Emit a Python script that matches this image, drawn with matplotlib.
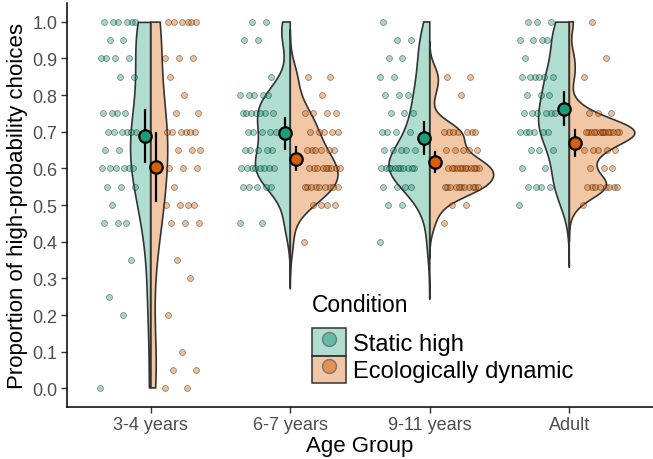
import numpy as np
import matplotlib
matplotlib.use("Agg")
import matplotlib.pyplot as plt
from matplotlib.patches import Patch
from matplotlib.lines import Line2D
from matplotlib.colors import to_rgba

plt.rcParams['font.family'] = ['Liberation Sans', 'DejaVu Sans']

# proportion of high-probability choices comes in steps of 0.05 (20 trials)
levels = np.round(np.arange(0, 1.0001, 0.05), 2)

age_groups = ["3-4 years", "6-7 years", "9-11 years", "Adult"]
conditions = ["Static high", "Ecologically dynamic"]
colors = ["#1B9E77", "#D95F02"]

# participants at each level, from 0.00 up to 1.00
static_34  = [1, 0, 0, 0, 1, 1, 0, 1, 0, 3, 1, 3, 6, 2, 6, 4, 0, 2, 4, 2, 6]
dynamic_34 = [2, 2, 1, 0, 1, 0, 1, 1, 0, 3, 4, 1, 3, 3, 6, 2, 1, 1, 3, 0, 6]
static_67  = [0, 0, 0, 0, 0, 0, 0, 0, 0, 2, 0, 5, 8, 5, 5, 7, 5, 1, 0, 2, 2]
dynamic_67 = [0, 0, 0, 0, 0, 0, 0, 0, 1, 0, 4, 9, 9, 6, 5, 4, 1, 2, 0, 0, 0]
static_911  = [0, 0, 0, 0, 0, 0, 0, 0, 1, 0, 2, 4, 11, 5, 4, 3, 3, 2, 2, 2, 1]
dynamic_911 = [0, 0, 0, 0, 0, 0, 0, 0, 0, 1, 2, 11, 12, 5, 7, 0, 1, 2, 0, 0, 0]
static_adult  = [0, 0, 0, 0, 0, 0, 0, 0, 0, 0, 1, 4, 2, 3, 6, 6, 3, 6, 1, 4, 3]
dynamic_adult = [0, 0, 0, 0, 0, 0, 0, 0, 0, 0, 1, 8, 3, 5, 14, 3, 0, 1, 1, 0, 1]

counts = [
    [static_34, dynamic_34],
    [static_67, dynamic_67],
    [static_911, dynamic_911],
    [static_adult, dynamic_adult],
]
data = [[np.repeat(levels, c) for c in pair] for pair in counts]


def nrd0(x):
    # same rule of thumb bandwidth R uses for density()
    sd = x.std(ddof=1)
    q75, q25 = np.percentile(x, [75, 25])
    lo = min(sd, (q75 - q25) / 1.34)
    if lo == 0:
        lo = sd
    return 0.9 * lo * len(x) ** -0.2


def half_violin(x, n=512, cut=3):
    bw = nrd0(x)
    grid = np.linspace(x.min() - cut * bw, x.max() + cut * bw, n)
    z = (grid[:, None] - x[None, :]) / bw
    dens = np.exp(-0.5 * z ** 2).sum(axis=1) / (len(x) * bw * np.sqrt(2 * np.pi))
    keep = (grid >= 0) & (grid <= 1)   # y scale is limited to 0-1
    return grid[keep], dens[keep]


def spread(n):
    # scattered offsets in [-1, 1] for the jittered points
    return (np.arange(n) * 0.6180339887 % 1.0) * 2 - 1


dens_all = [[half_violin(x) for x in pair] for pair in data]
dmax = max(d.max() for pair in dens_all for _, d in pair)

fig = plt.figure(figsize=(6.53, 4.60), dpi=100)
ax = fig.add_axes([67 / 653, (460 - 407.7) / 460, 586 / 653, (407.7 - 4.35) / 460])

for i, group in enumerate(age_groups):
    pos = i + 1
    for j, cond in enumerate(conditions):
        side = -1 if j == 0 else 1
        y, d = dens_all[i][j]
        w = d / dmax * 0.47
        xs = np.concatenate([[pos], pos + side * w, [pos]])
        ys = np.concatenate([[y[0]], y, [y[-1]]])
        ax.fill(xs, ys, facecolor=to_rgba(colors[j], 0.35), edgecolor="#333333",
                linewidth=1.2, zorder=2)

        vals = data[i][j]
        jx = pos + side * 0.23 + spread(len(vals)) * 0.13
        ax.scatter(jx, vals, s=18, facecolor=to_rgba(colors[j], 0.4),
                   edgecolor=(0, 0, 0, 0.4), linewidth=0.6, zorder=3)

        # mean with 95% CI
        m = vals.mean()
        ci = 2.02 * vals.std(ddof=1) / np.sqrt(len(vals))
        mx = pos + side * 0.04
        ax.plot([mx, mx], [m - ci, m + ci], color="black", linewidth=1.6, zorder=4)
        ax.scatter([mx], [m], s=80, facecolor=colors[j], edgecolor="black",
                   linewidth=1.6, zorder=5)

ax.set_xlim(0.4, 4.6)
ax.set_ylim(-0.05, 1.05)
ax.set_xticks(range(1, 5))
ax.set_xticklabels(age_groups)
ax.set_yticks(np.round(np.arange(0, 1.01, 0.1), 1))
ax.set_yticklabels([f"{v:.1f}" for v in np.arange(0, 1.01, 0.1)])

for s in ["top", "right"]:
    ax.spines[s].set_visible(False)
for s in ["left", "bottom"]:
    ax.spines[s].set_linewidth(1.1)
    ax.spines[s].set_color("black")
ax.tick_params(direction="out", length=4, width=1, color="#333333",
               labelcolor="#4D4D4D", labelsize=13, pad=3)

ax.set_xlabel("Age Group", fontsize=16, labelpad=1)
ax.set_ylabel("Proportion of high-probability choices", fontsize=16, labelpad=3)

# legend: keys stacked under a separate title
handles = [
    (Patch(facecolor=to_rgba(c, 0.35), edgecolor="#333333", linewidth=1.1),
     Line2D([], [], linestyle="none", marker="o", markersize=10,
            markerfacecolor=to_rgba(c, 0.5), markeredgecolor="#777777"))
    for c in colors
]
ax.legend(handles, conditions, loc="upper left",
          bbox_to_anchor=(312 / 653, 1 - 329 / 460), bbox_transform=fig.transFigure,
          frameon=False, fontsize=17, handlelength=1.42,
          handleheight=1.42, labelspacing=0, handletextpad=0.3, borderpad=0,
          borderaxespad=0)
fig.text(312 / 653, 1 - 306 / 460, "Condition", fontsize=16.5, ha="left", va="center")

fig.savefig("out.png", dpi=100)
